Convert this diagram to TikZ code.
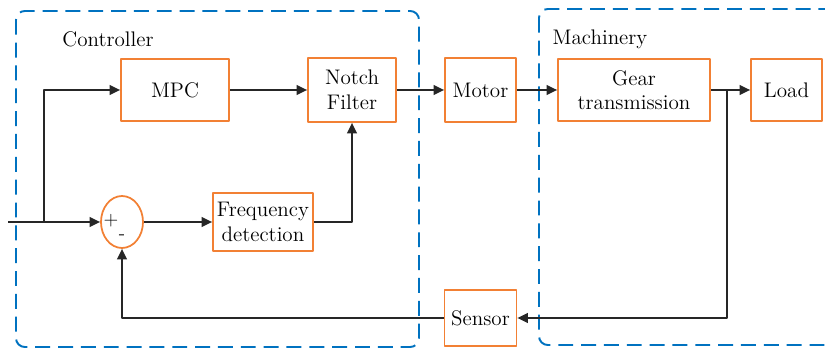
\documentclass[tikz,border=0pt]{standalone}
\usetikzlibrary{positioning,shapes.geometric,arrows.meta}
\definecolor{boxorange}{RGB}{242,128,52}
\definecolor{dashblue}{RGB}{0,114,192}

\begin{document}
\begin{tikzpicture}[x=0.02cm,y=-0.02cm,>={Triangle[length=6pt,width=5.5pt]}, font=\fontsize{12}{14}\selectfont, line join=round,
	blk/.style={draw=boxorange,line width=1pt,align=center,inner sep=1pt},
	sig/.style={->,line width=1pt,draw=black!85},
	grp/.style={draw=dashblue,line width=1.1pt,dash pattern=on 8.5pt off 4.5pt,rounded corners=5pt}]
	\clip (0,0) rectangle (825,351);
	% groups
	\draw[grp] (16,11) rectangle (419,347);
	\draw[grp] (539,9) rectangle (840,345);
	\node at (108,39) {Controller};
	\node at (600,39) {Machinery};
	% blocks
	\node[blk,minimum width=2.16cm,minimum height=1.24cm] (mpc) at (175,90) {MPC};
	\node[blk,minimum width=1.76cm,minimum height=1.28cm] (notch) at (352,90) {Notch\\Filter};
	\node[blk,minimum width=1.42cm,minimum height=1.28cm] (motor) at (480.5,90) {Motor};
	\node[blk,minimum width=3.04cm,minimum height=1.24cm] (gear) at (634,90) {Gear\\transmission};
	\node[blk,minimum width=1.42cm,minimum height=1.24cm] (load) at (786.5,90) {Load};
	\node[blk,minimum width=2cm,minimum height=1.16cm] (freq) at (263,222) {Frequency\\detection};
	\node[blk,minimum width=1.44cm,minimum height=1.12cm] (sensor) at (480.5,318) {Sensor};
	\node[ellipse,draw=boxorange,line width=1pt,minimum width=0.84cm,minimum height=1.04cm,inner sep=0pt] (sum) at (122,222) {};
	\node[font=\fontsize{11}{12}\selectfont] at (111,221) {+};
	\node[font=\fontsize{11}{12}\selectfont] at (122,237) {-};
	\path
	(8,222) coordinate (in)
	(44,222) coordinate (br)
	(727,90) coordinate (tap)
	;
	% connectors
	\draw[line width=1pt,draw=black!85] (in)--(br);
	\draw[sig] (br)--(sum.west);
	\draw[sig] (br)|-(mpc.west);
	\draw[sig] (mpc)--(notch);
	\draw[sig] (notch)--(motor);
	\draw[sig] (motor)--(gear);
	\draw[sig] (gear)--(load);
	\draw[sig] (sum)--(freq);
	\draw[sig] (freq.east)-|(notch.south);
	\draw[sig] (tap)|-(sensor.east);
	\draw[sig] (sensor.west)-|(sum.south);
\end{tikzpicture}
\end{document}
